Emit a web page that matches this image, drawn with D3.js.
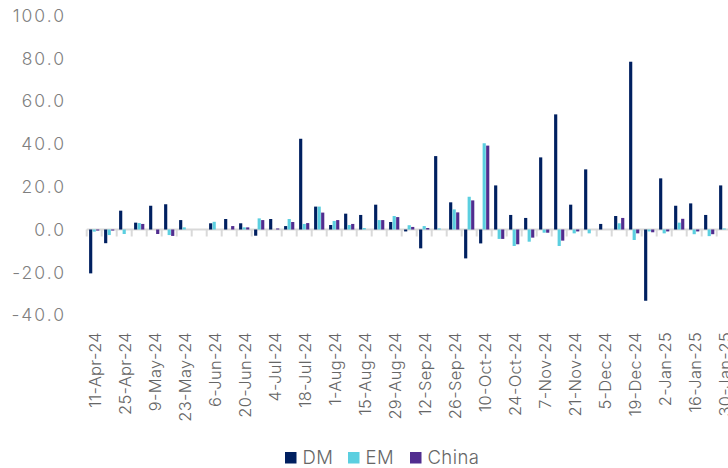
<!DOCTYPE html>
<html>
<head>
<meta charset="utf-8">
<script src="https://cdn.jsdelivr.net/npm/d3@7"></script>
<style>
  html, body { margin: 0; padding: 0; background: #fff; }
  svg { display: block; }
  text { font-family: Inter, "Open Sans", "DejaVu Sans", sans-serif; font-weight: 300; }
</style>
</head>
<body>
<svg id="chart" width="728" height="468"></svg>
<script>
const dates = ["11-Apr-24","18-Apr-24","25-Apr-24","2-May-24","9-May-24","16-May-24","23-May-24","30-May-24",
  "6-Jun-24","13-Jun-24","20-Jun-24","27-Jun-24","4-Jul-24","11-Jul-24","18-Jul-24","25-Jul-24",
  "1-Aug-24","8-Aug-24","15-Aug-24","22-Aug-24","29-Aug-24","5-Sep-24","12-Sep-24","19-Sep-24",
  "26-Sep-24","3-Oct-24","10-Oct-24","17-Oct-24","24-Oct-24","31-Oct-24","7-Nov-24","14-Nov-24",
  "21-Nov-24","28-Nov-24","5-Dec-24","12-Dec-24","19-Dec-24","26-Dec-24","2-Jan-25","9-Jan-25",
  "16-Jan-25","23-Jan-25","30-Jan-25"];
const seriesNames = ["DM","EM","China"];
const dm = [-20.5,-6.4,8.8,3.2,11.1,11.8,4.4,0,2.9,4.9,2.9,-2.9,4.9,1.6,42.4,10.7,2.1,7.4,6.8,11.6,3.5,-0.9,-8.8,34.3,12.7,-13.5,-6.5,20.6,6.8,5.4,33.7,53.8,11.6,28.1,2.6,6.3,78.4,-33.3,23.9,11.1,12.2,6.8,20.6];
const em = [-1.0,-2.6,-2.1,3.0,0,-2.6,1.0,0,3.6,0,1.0,5.2,0,4.9,2.6,10.7,4.0,2.1,0.7,4.4,6.3,2.0,1.6,0.5,9.4,15.3,40.3,-4.4,-7.7,-5.7,-1.5,-7.7,-1.8,-1.8,0,2.9,-4.9,-0.9,-1.8,3.2,-2.2,-3.1,0.5];
const china = [-0.5,-0.5,0,2.6,-2.1,-3.0,0,0,0,1.6,1.0,4.4,0.5,3.5,3.0,7.9,4.4,2.6,0,4.4,5.8,1.2,0.7,0,8.0,13.6,39.2,-4.4,-6.9,-3.8,-1.5,-5.2,-0.9,0,0,5.4,-1.8,-1.3,-0.9,5.0,-0.9,-2.2,0];
const yTicks = [-40,-20,0,20,40,60,80,100];
const colors = ["#002060","#5BCFE0","#512D8F"];

const svg = d3.select("#chart");
const values = [dm, em, china];

const x = d3.scaleBand().domain(dates).range([86.7, 731.7]).padding(0);
const xs = d3.scaleBand().domain(seriesNames).range([2.4, 12.6]).paddingInner(0.1);
const y = d3.scaleLinear().domain([-40, 100]).range([315.1, 15.5]);
const color = d3.scaleOrdinal().domain(seriesNames).range(colors);

// y labels
svg.append("g").selectAll("text").data(yTicks).join("text")
  .attr("x", 66).attr("y", d => y(d)).attr("dy", "0.36em")
  .attr("text-anchor", "end").attr("fill", "#7f7f7f").attr("font-size", 17.5)
  .attr("letter-spacing", 2)
  .text(d => d.toFixed(1));

// baseline + ticks
const y0 = y(0);
svg.append("line").attr("x1", x.range()[0]).attr("x2", x.range()[1])
  .attr("y1", y0).attr("y2", y0).attr("stroke", "#d9d9d9").attr("stroke-width", 2);
svg.append("g").selectAll("line").data(dates.concat(["__end"])).join("line")
  .attr("x1", (d, i) => x.range()[0] + i * x.step())
  .attr("x2", (d, i) => x.range()[0] + i * x.step())
  .attr("y1", y0).attr("y2", y0 + 7)
  .attr("stroke", "#d9d9d9").attr("stroke-width", 2);

// bars
const groups = svg.append("g").selectAll("g").data(dates).join("g")
  .attr("transform", d => `translate(${x(d)},0)`);
groups.selectAll("rect")
  .data((d, i) => seriesNames.map((s, k) => ({ s, v: values[k][i] })))
  .join("rect")
  .attr("x", d => xs(d.s))
  .attr("width", xs.bandwidth())
  .attr("y", d => Math.min(y(d.v), y0))
  .attr("height", d => Math.abs(y(d.v) - y0))
  .attr("fill", d => color(d.s));

// x labels (every other week)
svg.append("g").selectAll("text").data(dates.filter((d, i) => i % 2 === 0)).join("text")
  .attr("transform", d => `translate(${x(d) + x.bandwidth() / 2 + 6.5},332) rotate(-90)`)
  .attr("text-anchor", "end").attr("fill", "#666666").attr("font-size", 16.5)
  .attr("letter-spacing", 0.3)
  .text(d => d);

// legend
const legX = [285, 348, 410];
const leg = svg.append("g").selectAll("g").data(seriesNames).join("g")
  .attr("transform", (d, i) => `translate(${legX[i]},452)`);
leg.append("rect").attr("width", 11.5).attr("height", 11.5).attr("fill", d => color(d));
leg.append("text").attr("x", 17.5).attr("y", 11.5)
  .attr("fill", "#666666").attr("font-size", 18.5).attr("letter-spacing", 0.4).text(d => d);
</script>
</body>
</html>
